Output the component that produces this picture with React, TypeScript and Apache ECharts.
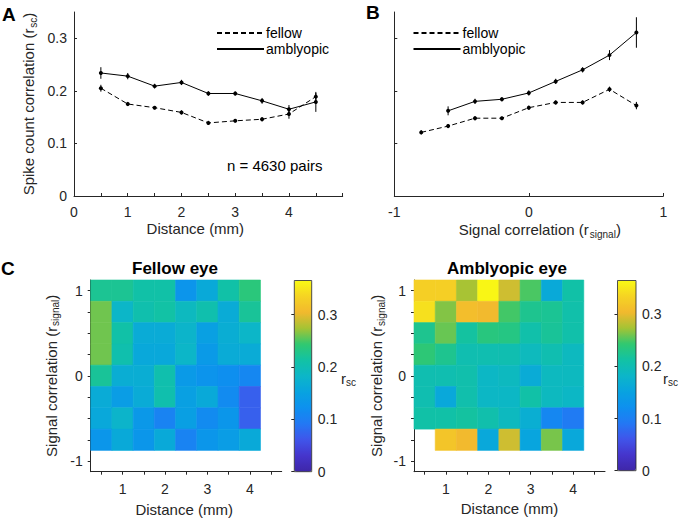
import React, { useEffect, useRef } from 'react';
import * as echarts from 'echarts';

// ---------- Panel A: spike count correlation vs distance ----------
const distanceMm = [0.5, 1, 1.5, 2, 2.5, 3, 3.5, 4, 4.5];
const distFellow = [0.205, 0.175, 0.168, 0.159, 0.139, 0.143, 0.146, 0.156, 0.189];
const distFellowErr = [0.0065, 0.004, 0.003, 0.004, 0.004, 0.003, 0.004, 0.009, 0.007];
const distAmbly = [0.234, 0.228, 0.209, 0.216, 0.195, 0.195, 0.181, 0.165, 0.179];
const distAmblyErr = [0.011, 0.006, 0.0045, 0.005, 0.0045, 0.004, 0.0055, 0.008, 0.019];

// ---------- Panel B: spike count correlation vs signal correlation ----------
const signalCorr = [-0.8, -0.6, -0.4, -0.2, 0, 0.2, 0.4, 0.6, 0.8];
const sigFellow = [0.121, 0.133, 0.148, 0.148, 0.168, 0.178, 0.178, 0.203, 0.172];
const sigFellowErr = [0.004, 0.004, 0.004, 0.003, 0.004, 0.004, 0.004, 0.005, 0.007];
const sigAmbly = [null, 0.162, 0.18, 0.184, 0.196, 0.218, 0.24, 0.268, 0.311];
const sigAmblyErr = [null, 0.0085, 0.005, 0.004, 0.005, 0.005, 0.005, 0.0095, 0.029];

// ---------- Panel C: heat maps (rows top -> bottom) ----------
const binDistance = [0.5, 1, 1.5, 2, 2.5, 3, 3.5, 4];
const binSignal = [1, 0.75, 0.5, 0.25, 0, -0.25, -0.5, -0.75];
const BIN_W = 0.5;
const BIN_H = 0.25;
const fellowMap = [
  [0.223, 0.223, 0.21, 0.21, 0.13, 0.162, 0.21, 0.237],
  [0.26, 0.182, 0.205, 0.212, 0.19, 0.205, 0.165, 0.22],
  [0.26, 0.21, 0.165, 0.165, 0.18, 0.148, 0.168, 0.182],
  [0.26, 0.205, 0.16, 0.16, 0.182, 0.138, 0.165, 0.165],
  [0.22, 0.168, 0.168, 0.205, 0.138, 0.128, 0.12, 0.11],
  [0.165, 0.142, 0.165, 0.205, 0.148, 0.162, 0.115, 0.07],
  [0.16, 0.18, 0.135, 0.105, 0.145, 0.115, 0.132, 0.07],
  [0.132, 0.162, 0.132, 0.162, 0.105, 0.132, 0.142, 0.162],
];
const amblyMap = [
  [0.33, 0.33, 0.275, 0.362, 0.29, 0.25, 0.162, 0.21],
  [0.345, 0.265, 0.31, 0.305, 0.248, 0.225, 0.222, 0.208],
  [0.225, 0.258, 0.215, 0.235, 0.232, 0.208, 0.22, 0.208],
  [0.24, 0.225, 0.203, 0.203, 0.203, 0.192, 0.203, 0.19],
  [0.203, 0.203, 0.206, 0.185, 0.19, 0.165, 0.19, 0.19],
  [0.203, 0.16, 0.206, 0.185, 0.185, 0.21, 0.19, 0.185],
  [0.21, 0.21, 0.215, 0.206, 0.19, 0.17, 0.11, 0.095],
  [null, 0.318, 0.305, 0.16, 0.29, 0.155, 0.262, 0.16],
];

// ---------- ticks ----------
const aXTicks = [0.5, 1, 1.5, 2, 2.5, 3, 3.5, 4, 4.5, 5];
const aXLabels = [0, 1, 2, 3, 4];
const yTicks = [0, 0.1, 0.2, 0.3];
const bXTicks = [-1, 0, 1];
const cXTicks = [0.5, 1, 1.5, 2, 2.5, 3, 3.5, 4, 4.5];
const cXLabels = [1, 2, 3, 4];
const cYTicks = [-1, -0.75, -0.5, -0.25, 0, 0.25, 0.5, 0.75, 1];
const cYLabels = [-1, 0, 1];
const cbarTicks = [0, 0.1, 0.2, 0.3];
const CMAX = 0.365;

const parula = [
  '#3e26a8', '#4535cc', '#4055ea', '#2378f4', '#0d90ef', '#08a3e0', '#0cb6c8',
  '#12c2a4', '#30c870', '#a5c334', '#f2b92e', '#f5d323', '#f9fa14',
];

const FONT = 'Liberation Sans, Arial, Helvetica, sans-serif';
const INK = '#262626';

const pairs = (xs: number[], ys: (number | null)[]) =>
  xs.map((x, i) => (ys[i] == null ? null : [x, ys[i]])).filter(Boolean) as number[][];
const errs = (xs: number[], ys: (number | null)[], es: (number | null)[]) =>
  xs
    .map((x, i) => (ys[i] == null ? null : [x, (ys[i] as number) - (es[i] as number), (ys[i] as number) + (es[i] as number)]))
    .filter(Boolean) as number[][];
const cells = (m: (number | null)[][]) => {
  const out: number[][] = [];
  m.forEach((row, r) =>
    row.forEach((v, c) => {
      if (v != null) out.push([binDistance[c], binSignal[r], v]);
    })
  );
  return out;
};

const errRender = (_p: any, api: any) => {
  const x = api.value(0);
  const a = api.coord([x, api.value(1)]);
  const b = api.coord([x, api.value(2)]);
  return {
    type: 'line',
    shape: { x1: a[0], y1: a[1], x2: b[0], y2: b[1] },
    style: { stroke: '#000', lineWidth: 1 },
  };
};
const heatRender = (_p: any, api: any) => {
  const x = api.value(0);
  const y = api.value(1);
  const p0 = api.coord([x - BIN_W / 2, y + BIN_H / 2]);
  const p1 = api.coord([x + BIN_W / 2, y - BIN_H / 2]);
  const c = api.visual('color');
  return {
    type: 'rect',
    shape: { x: p0[0], y: p0[1], width: p1[0] - p0[0], height: p1[1] - p0[1] },
    style: { fill: c, stroke: c, lineWidth: 0.6 },
  };
};

const axisLine = { show: true, onZero: false, lineStyle: { color: INK, width: 1 } };
const lbl = (values: number[], margin: number, extra: any = {}) => ({
  customValues: values,
  margin,
  fontSize: 14,
  color: INK,
  fontFamily: FONT,
  ...extra,
});
const tick = (values: number[], inside: boolean, length = 3) => ({
  customValues: values,
  inside,
  length,
  lineStyle: { color: INK, width: 1 },
});
const rich = {
  n: { fontSize: 15, fontFamily: FONT, color: INK },
  s: { fontSize: 10, fontFamily: FONT, color: INK, padding: [9, 0, 0, 1] },
};

const lineSeries = (name: string, xi: number, xs: number[], ys: (number | null)[], dashed: boolean) => ({
  type: 'line',
  name,
  xAxisIndex: xi,
  yAxisIndex: xi,
  data: pairs(xs, ys),
  symbol: 'circle',
  symbolSize: 4,
  itemStyle: { color: '#000' },
  lineStyle: { color: '#000', width: 1, type: dashed ? [5, 3] : 'solid' },
  z: 3,
});
const errSeries = (xi: number, xs: number[], ys: (number | null)[], es: (number | null)[]) => ({
  type: 'custom',
  xAxisIndex: xi,
  yAxisIndex: xi,
  data: errs(xs, ys, es),
  encode: { x: 0, y: [1, 2] },
  renderItem: errRender,
  z: 4,
});

const legendCfg = (left: number) => ({
  orient: 'vertical',
  left,
  top: 26,
  itemWidth: 47,
  itemHeight: 14,
  itemGap: 2,
  padding: 0,
  selectedMode: false,
  data: ['fellow', 'amblyopic'],
  itemStyle: { opacity: 0 },
  textStyle: { fontSize: 14, color: '#000', fontFamily: FONT, padding: [0, 0, 0, -3] },
});

const txt = (x: number, y: number, text: string, size: number, bold = false, align = 'left', extra: any = {}) => ({
  type: 'text',
  x,
  y,
  style: {
    text,
    fontSize: size,
    fontWeight: bold ? 'bold' : 'normal',
    fontFamily: FONT,
    fill: '#000',
    align,
    verticalAlign: 'middle',
    ...extra,
  },
});

const option: any = {
  animation: false,
  backgroundColor: '#fff',
  textStyle: { fontFamily: FONT },
  grid: [
    { left: 74, top: 12, width: 268.7, height: 184 },
    { left: 394.3, top: 12, width: 269, height: 184 },
    { left: 90.7, top: 280, width: 191, height: 191.7 },
    { left: 414, top: 280, width: 191, height: 191.7 },
    { left: 294.3, top: 280.5, width: 17.4, height: 191.2, show: true, borderColor: INK, borderWidth: 0.8, backgroundColor: 'transparent', z: 6 },
    { left: 617.5, top: 280.5, width: 18.5, height: 190.2, show: true, borderColor: INK, borderWidth: 0.8, backgroundColor: 'transparent', z: 6 },
  ],
  xAxis: [
    {
      gridIndex: 0, type: 'value', min: 0, max: 5,
      axisLine, axisTick: tick(aXTicks, true), axisLabel: lbl(aXLabels, 9), splitLine: { show: false },
      name: 'Distance (mm)', nameLocation: 'middle', nameGap: 25,
      nameTextStyle: { fontSize: 15, color: INK, fontFamily: FONT, padding: [0, 26, 0, 0] },
    },
    {
      gridIndex: 1, type: 'value', min: -1, max: 1,
      axisLine, axisTick: tick(bXTicks, true), axisLabel: lbl(bXTicks, 9), splitLine: { show: false },
      name: '{n|Signal correlation (r}{s|signal}{n|)}', nameLocation: 'middle', nameGap: 24,
      nameTextStyle: { rich, padding: [0, 0, 0, 22] },
    },
    {
      gridIndex: 2, type: 'value', min: 0.25, max: 4.75,
      axisLine, axisTick: tick(cXTicks, false, 3), axisLabel: lbl(cXLabels, 10), splitLine: { show: false },
      name: 'Distance (mm)', nameLocation: 'middle', nameGap: 30,
      nameTextStyle: { fontSize: 15, color: INK, fontFamily: FONT, padding: [0, 4, 0, 0] },
    },
    {
      gridIndex: 3, type: 'value', min: 0.25, max: 4.75,
      axisLine, axisTick: tick(cXTicks, false, 3), axisLabel: lbl(cXLabels, 10), splitLine: { show: false },
      name: 'Distance (mm)', nameLocation: 'middle', nameGap: 29,
      nameTextStyle: { fontSize: 15, color: INK, fontFamily: FONT },
    },
    { gridIndex: 4, type: 'value', min: 0, max: 1, show: false },
    { gridIndex: 5, type: 'value', min: 0, max: 1, show: false },
  ],
  yAxis: [
    {
      gridIndex: 0, type: 'value', min: 0, max: 0.35,
      axisLine, axisTick: tick(yTicks, true), axisLabel: lbl(yTicks, 7), splitLine: { show: false },
      name: '{n|Spike count correlation (r}{s|sc}{n|)}', nameLocation: 'middle', nameGap: 36,
      nameTextStyle: { rich },
    },
    {
      gridIndex: 1, type: 'value', min: 0, max: 0.35,
      axisLine, axisTick: tick(yTicks, true), axisLabel: { show: false }, splitLine: { show: false },
    },
    {
      gridIndex: 2, type: 'value', min: -1.125, max: 1.125,
      axisLine, axisTick: tick(cYTicks, false, 3), axisLabel: lbl(cYLabels, 8), splitLine: { show: false },
      name: '{n|Signal correlation (r}{s|signal}{n|)}', nameLocation: 'middle', nameGap: 30,
      nameTextStyle: { rich },
    },
    {
      gridIndex: 3, type: 'value', min: -1.125, max: 1.125,
      axisLine, axisTick: tick(cYTicks, false, 3), axisLabel: lbl(cYLabels, 8), splitLine: { show: false },
      name: '{n|Signal correlation (r}{s|signal}{n|)}', nameLocation: 'middle', nameGap: 28,
      nameTextStyle: { rich },
    },
    {
      gridIndex: 4, type: 'value', min: 0, max: CMAX, position: 'right',
      axisLine: { show: false }, axisTick: tick(cbarTicks, true, 3), axisLabel: lbl(cbarTicks, 6), splitLine: { show: false },
    },
    {
      gridIndex: 5, type: 'value', min: 0, max: CMAX, position: 'right',
      axisLine: { show: false }, axisTick: tick(cbarTicks, true, 3), axisLabel: lbl(cbarTicks, 6), splitLine: { show: false },
    },
  ],
  legend: [legendCfg(216), legendCfg(412.5)],
  visualMap: [
    {
      type: 'continuous', seriesIndex: 8, dimension: 2, min: 0, max: CMAX,
      inRange: { color: parula }, calculable: false, hoverLink: false,
      left: 294.3, top: 280.5, itemWidth: 17.4, itemHeight: 191.2, padding: 0, z: 4,
    },
    {
      type: 'continuous', seriesIndex: 9, dimension: 2, min: 0, max: CMAX,
      inRange: { color: parula }, calculable: false, hoverLink: false,
      left: 617.5, top: 280.5, itemWidth: 18.5, itemHeight: 190.2, padding: 0, z: 4,
    },
  ],
  series: [
    lineSeries('fellow', 0, distanceMm, distFellow, true),
    lineSeries('amblyopic', 0, distanceMm, distAmbly, false),
    errSeries(0, distanceMm, distFellow, distFellowErr),
    errSeries(0, distanceMm, distAmbly, distAmblyErr),
    lineSeries('fellow', 1, signalCorr, sigFellow, true),
    lineSeries('amblyopic', 1, signalCorr, sigAmbly, false),
    errSeries(1, signalCorr, sigFellow, sigFellowErr),
    errSeries(1, signalCorr, sigAmbly, sigAmblyErr),
    {
      type: 'custom', xAxisIndex: 2, yAxisIndex: 2, data: cells(fellowMap),
      encode: { x: 0, y: 1 }, renderItem: heatRender, z: 1,
    },
    {
      type: 'custom', xAxisIndex: 3, yAxisIndex: 3, data: cells(amblyMap),
      encode: { x: 0, y: 1 }, renderItem: heatRender, z: 1,
    },
  ],
  graphic: [
    txt(2, 14, 'A', 19, true),
    txt(366, 12, 'B', 19, true),
    txt(1, 268, 'C', 19, true),
    txt(175, 268, 'Fellow eye', 17, true, 'center'),
    txt(507, 268, 'Amblyopic eye', 17, true, 'center'),
    txt(227, 165, 'n = 4630 pairs', 15),
    txt(341, 378, '{n|r}{s|sc}', 15, false, 'left', { rich: { n: { fontSize: 15, fontFamily: FONT, fill: INK }, s: { fontSize: 10, fontFamily: FONT, fill: INK, padding: [9, 0, 0, 0] } } }),
    txt(663, 378, '{n|r}{s|sc}', 15, false, 'left', { rich: { n: { fontSize: 15, fontFamily: FONT, fill: INK }, s: { fontSize: 10, fontFamily: FONT, fill: INK, padding: [9, 0, 0, 0] } } }),
  ],
};

export default function App() {
  const ref = useRef<HTMLDivElement>(null);
  useEffect(() => {
    const chart = echarts.init(ref.current!, null, { renderer: 'svg' });
    chart.setOption(option);
    return () => chart.dispose();
  }, []);
  return <div ref={ref} style={{ position: 'fixed', left: 0, top: 0, width: 680, height: 520 }} />;
}
